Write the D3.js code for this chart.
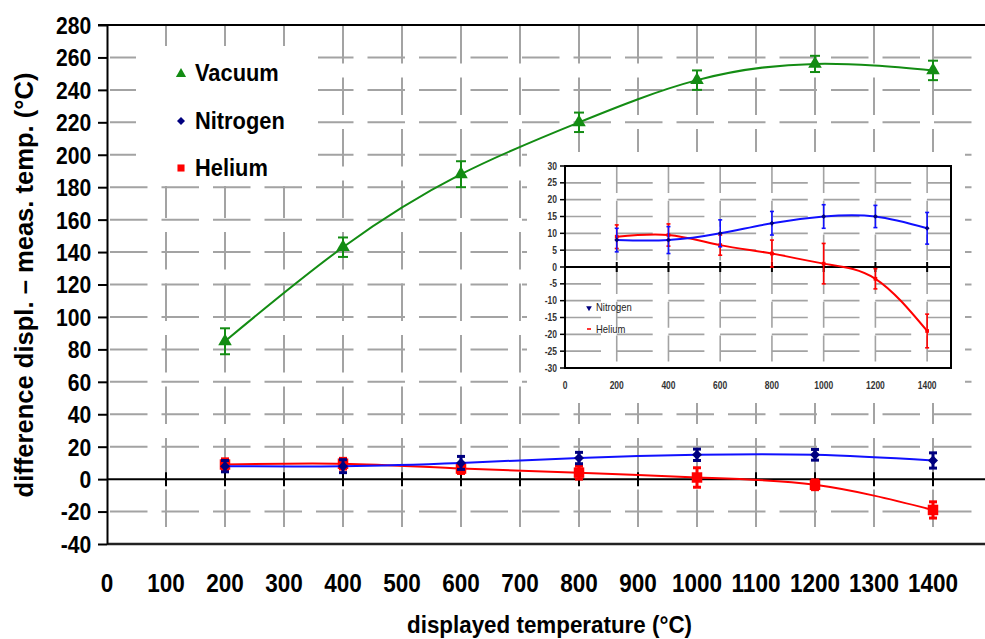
<!DOCTYPE html>
<html>
<head>
<meta charset="utf-8">
<script src="https://cdn.jsdelivr.net/npm/d3@7"></script>
<style>
  body { margin: 0; background: #fff; }
  svg { display: block; font-family: "Liberation Sans", Arial, sans-serif; }
</style>
</head>
<body>
<div id="chart"></div>
<script>
/*** DATA ***/
const temps = [200, 400, 600, 800, 1000, 1200, 1400];
const vacuum = [85, 143, 188, 220, 246, 256, 252];
const vacuumErr = [8, 6, 8, 6, 6, 5, 6];
const nitrogen = [8, 8, 10, 13, 15, 15, 11.5];
const nitrogenErr = [3.5, 4, 4, 3.5, 3.5, 3.3, 4.7];
const helium = [9, 9.5, 6.5, 4, 1, -3.5, -19];
const heliumErr = [3.5, 3.3, 3, 4, 6, 3, 5];

const xTicks = [0, 100, 200, 300, 400, 500, 600, 700, 800, 900, 1000, 1100, 1200, 1300, 1400];
const yTicks = [-40, -20, 0, 20, 40, 60, 80, 100, 120, 140, 160, 180, 200, 220, 240, 260, 280];
const insetXTicks = [0, 200, 400, 600, 800, 1000, 1200, 1400];
const insetYTicks = [-30, -25, -20, -15, -10, -5, 0, 5, 10, 15, 20, 25, 30];

const legendNames = ["Vacuum", "Nitrogen", "Helium"];
const insetLegendNames = ["Nitrogen", "Helium"];

const xTitle = "displayed temperature (°C)";
const yTitle = "difference displ. – meas. temp. (°C)";

function rows(vals, errs) {
    return temps.map(function (t, i) { return {t: t, v: vals[i], e: errs[i]}; });
}
const vacRows = rows(vacuum, vacuumErr);
const nitRows = rows(nitrogen, nitrogenErr);
const helRows = rows(helium, heliumErr);

const GREEN = "#138c13", BLUE = "#1010ff", NAVY = "#00007f", RED = "#ff0000", GRID = "#a3a3a3";

/*** SVG ***/
const svg = d3.select("#chart").append("svg")
    .attr("width", 985)
    .attr("height", 639);

const x = d3.scaleLinear().domain([0, 1500]).range([107, 992]);
const y = d3.scaleLinear().domain([-40, 280]).range([544, 25]);

/*** GRID ***/
svg.append("g").selectAll("line")
    .data(yTicks.filter(d => d > -40 && d < 280 && d !== 0))
    .join("line")
    .attr("x1", 110).attr("x2", 975)
    .attr("y1", d => y(d)).attr("y2", d => y(d))
    .attr("stroke", GRID).attr("stroke-width", 2)
    .attr("stroke-dasharray", "37.5,14");

svg.append("g").selectAll("line")
    .data(xTicks.filter(d => d > 0))
    .join("line")
    .attr("x1", d => x(d)).attr("x2", d => x(d))
    .attr("y1", 26).attr("y2", 541)
    .attr("stroke", GRID).attr("stroke-width", 2)
    .attr("stroke-dasharray", "37.5,14");

// white boxes behind legend and inset
svg.append("rect").attr("x", 136).attr("y", 46).attr("width", 182).attr("height", 140).attr("fill", "#fff");
svg.append("rect").attr("x", 527).attr("y", 152).attr("width", 438).attr("height", 251).attr("fill", "#fff");

/*** AXES ***/
svg.append("line").attr("x1", 98).attr("x2", 985).attr("y1", y(280)).attr("y2", y(280))
    .attr("stroke", "#000").attr("stroke-width", 2);
svg.append("line").attr("x1", 107).attr("x2", 985).attr("y1", y(-40)).attr("y2", y(-40))
    .attr("stroke", "#222").attr("stroke-width", 2.5);
svg.append("line").attr("x1", 107).attr("x2", 985).attr("y1", y(0)).attr("y2", y(0))
    .attr("stroke", "#000").attr("stroke-width", 2);

svg.append("g").selectAll("line")
    .data(xTicks.filter(d => d > 0))
    .join("line")
    .attr("x1", d => x(d)).attr("x2", d => x(d))
    .attr("y1", y(0) - 7).attr("y2", y(0) + 7)
    .attr("stroke", "#000").attr("stroke-width", 2);

const yAxis = svg.append("g")
    .attr("transform", "translate(107,0)")
    .call(d3.axisLeft(y).tickValues(yTicks).tickSize(9).tickSizeOuter(0).tickFormat(d => String(d)));
yAxis.select(".domain").attr("stroke", "#000").attr("stroke-width", 2);
yAxis.selectAll(".tick line").attr("stroke", "#000").attr("stroke-width", 2);
yAxis.selectAll(".tick text")
    .attr("x", -18)
    .attr("dy", "0.35em")
    .attr("transform", "scale(0.88,1)")
    .attr("fill", "#000")
    .style("font-size", "24px")
    .style("font-weight", "bold")
    .style("font-family", "'Liberation Sans', Arial, sans-serif");

svg.append("g").selectAll("text")
    .data(xTicks)
    .join("text")
    .attr("transform", d => "translate(" + x(d) + ",592) scale(0.9,1)")
    .attr("text-anchor", "middle")
    .style("font-size", "25px")
    .style("font-weight", "bold")
    .text(d => d);

svg.append("text")
    .attr("x", 407).attr("y", 633)
    .attr("textLength", 285).attr("lengthAdjust", "spacingAndGlyphs")
    .style("font-size", "23px").style("font-weight", "bold")
    .text(xTitle);

svg.append("text")
    .attr("transform", "translate(33,285) rotate(-90)")
    .attr("text-anchor", "middle")
    .attr("textLength", 425).attr("lengthAdjust", "spacingAndGlyphs")
    .style("font-size", "25px").style("font-weight", "bold")
    .text(yTitle);

/*** SERIES ***/
function drawSeries(g, data, xs, ys, o) {
    const line = d3.line().x(d => xs(d.t)).y(d => ys(d.v)).curve(d3.curveNatural);
    g.append("path").datum(data)
        .attr("d", line)
        .attr("fill", "none")
        .attr("stroke", o.lineColor)
        .attr("stroke-width", o.lineWidth);
    const eb = g.append("g").attr("stroke", o.barColor).attr("stroke-width", o.barWidth);
    eb.selectAll(".v").data(data).join("line").attr("class", "v")
        .attr("x1", d => xs(d.t)).attr("x2", d => xs(d.t))
        .attr("y1", d => ys(d.v - d.e)).attr("y2", d => ys(d.v + d.e));
    eb.selectAll(".c1").data(data).join("line").attr("class", "c1")
        .attr("x1", d => xs(d.t) - o.cap).attr("x2", d => xs(d.t) + o.cap)
        .attr("y1", d => ys(d.v + d.e)).attr("y2", d => ys(d.v + d.e));
    eb.selectAll(".c2").data(data).join("line").attr("class", "c2")
        .attr("x1", d => xs(d.t) - o.cap).attr("x2", d => xs(d.t) + o.cap)
        .attr("y1", d => ys(d.v - d.e)).attr("y2", d => ys(d.v - d.e));
    g.selectAll(".mk" + o.key).data(data).join("path").attr("class", "mk" + o.key)
        .attr("d", d3.symbol().type(o.symbol).size(o.size))
        .attr("transform", d => "translate(" + xs(d.t) + "," + ys(d.v) + ")" + (o.rotate ? " rotate(45)" : ""))
        .attr("fill", o.markColor);
}

const main = svg.append("g");
drawSeries(main, helRows, x, y, {key: "h", lineColor: RED, lineWidth: 2, barColor: RED, barWidth: 3, cap: 4, symbol: d3.symbolSquare, size: 110, markColor: RED});
drawSeries(main, nitRows, x, y, {key: "n", lineColor: BLUE, lineWidth: 2, barColor: NAVY, barWidth: 3, cap: 4, symbol: d3.symbolSquare, size: 50, rotate: true, markColor: NAVY});
drawSeries(main, vacRows, x, y, {key: "v", lineColor: GREEN, lineWidth: 2, barColor: GREEN, barWidth: 2, cap: 5, symbol: d3.symbolTriangle, size: 80, markColor: GREEN});

/*** LEGEND ***/
const legendSymbols = [d3.symbolTriangle, d3.symbolSquare, d3.symbolSquare];
const legendColors = [GREEN, NAVY, RED];
const leg = svg.append("g");
leg.selectAll("path").data(legendNames).join("path")
    .attr("d", (d, i) => d3.symbol().type(legendSymbols[i]).size(i === 0 ? 45 : (i === 1 ? 32 : 50))())
    .attr("transform", (d, i) => "translate(181," + (74 + i * 47) + ")" + (i === 1 ? " rotate(45)" : ""))
    .attr("fill", (d, i) => legendColors[i]);
leg.selectAll("text").data(legendNames).join("text")
    .attr("transform", (d, i) => "translate(195," + (81 + i * 47.5) + ") scale(0.91,1)")
    .style("font-size", "24px").style("font-weight", "bold")
    .text(d => d);

/*** INSET ***/
const xi = d3.scaleLinear().domain([0, 1500]).range([565, 953]);
const yi = d3.scaleLinear().domain([-30, 30]).range([368, 166]);
const inset = svg.append("g");

inset.append("g").selectAll("line")
    .data(insetYTicks.filter(d => d > -30 && d < 30 && d !== 0))
    .join("line")
    .attr("x1", 565).attr("x2", 951)
    .attr("y1", d => yi(d)).attr("y2", d => yi(d))
    .attr("stroke", GRID).attr("stroke-width", 1.6)
    .attr("stroke-dasharray", "36,15.7");
inset.append("g").selectAll("line")
    .data(insetXTicks.filter(d => d > 0))
    .join("line")
    .attr("x1", d => xi(d)).attr("x2", d => xi(d))
    .attr("y1", 167).attr("y2", 367)
    .attr("stroke", GRID).attr("stroke-width", 1.6)
    .attr("stroke-dasharray", "26,7.7");

inset.append("rect").attr("x", 565).attr("y", 166).attr("width", 386).attr("height", 202)
    .attr("fill", "none").attr("stroke", "#000").attr("stroke-width", 2);
inset.append("line").attr("x1", 565).attr("x2", 951).attr("y1", yi(0)).attr("y2", yi(0))
    .attr("stroke", "#000").attr("stroke-width", 2);
inset.append("g").selectAll("line")
    .data(insetXTicks.filter(d => d > 0))
    .join("line")
    .attr("x1", d => xi(d)).attr("x2", d => xi(d))
    .attr("y1", yi(0) - 5).attr("y2", yi(0) + 5)
    .attr("stroke", "#000").attr("stroke-width", 2);
inset.append("g").selectAll("line")
    .data(insetYTicks)
    .join("line")
    .attr("x1", 560).attr("x2", 565)
    .attr("y1", d => yi(d)).attr("y2", d => yi(d))
    .attr("stroke", "#000").attr("stroke-width", 1.5);

inset.append("g").selectAll("text")
    .data(insetYTicks)
    .join("text")
    .attr("transform", d => "translate(557," + (yi(d) + 3.5) + ") scale(0.85,1)")
    .attr("text-anchor", "end")
    .attr("fill", "#333")
    .style("font-size", "10px").style("font-weight", "bold")
    .text(d => d);
inset.append("g").selectAll("text")
    .data(insetXTicks)
    .join("text")
    .attr("transform", d => "translate(" + xi(d) + ",389) scale(0.85,1)")
    .attr("text-anchor", "middle")
    .attr("fill", "#333")
    .style("font-size", "10px").style("font-weight", "bold")
    .text(d => d);

drawSeries(inset, helRows, xi, yi, {key: "ih", lineColor: RED, lineWidth: 2, barColor: RED, barWidth: 1.6, cap: 2, symbol: d3.symbolSquare, size: 14, markColor: RED});
drawSeries(inset, nitRows, xi, yi, {key: "in", lineColor: BLUE, lineWidth: 2, barColor: BLUE, barWidth: 1.6, cap: 2, symbol: d3.symbolSquare, size: 12, rotate: true, markColor: NAVY});

inset.append("path")
    .attr("d", d3.symbol().type(d3.symbolTriangle).size(14)())
    .attr("transform", "translate(589,308) rotate(180)")
    .attr("fill", NAVY);
inset.append("line").attr("x1", 587).attr("x2", 591).attr("y1", 329).attr("y2", 329)
    .attr("stroke", RED).attr("stroke-width", 1.6);
inset.selectAll(".ileg").data(insetLegendNames).join("text").attr("class", "ileg")
    .attr("transform", (d, i) => "translate(596," + (311 + i * 21.5) + ") scale(0.9,1)")
    .attr("fill", "#222")
    .style("font-size", "10.5px")
    .text(d => d);
</script>
</body>
</html>
